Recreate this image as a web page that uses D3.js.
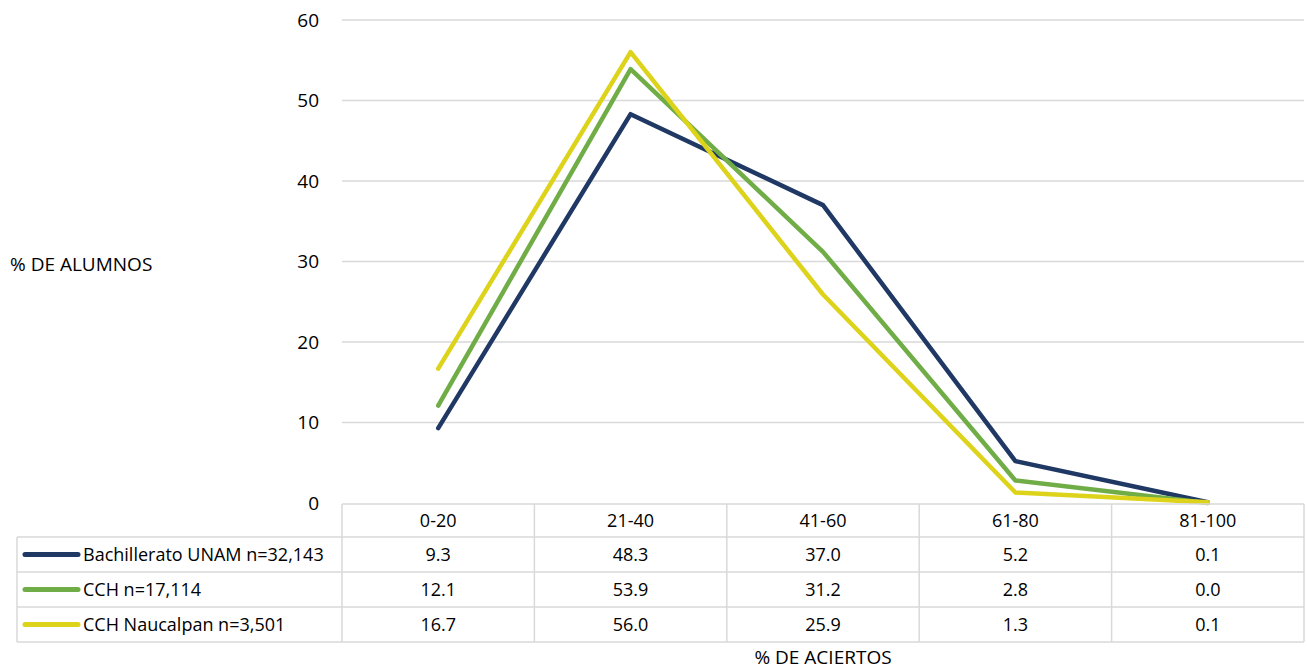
<!DOCTYPE html>
<html><head><meta charset="utf-8">
<script src="https://cdn.jsdelivr.net/npm/d3@7"></script>
<style>body{margin:0;background:#fff}svg{display:block}</style>
</head><body>
<script>
const categories = ["0-20","21-40","41-60","61-80","81-100"];
const seriesNames = ["Bachillerato UNAM n=32,143","CCH n=17,114","CCH Naucalpan n=3,501"];
const bachillerato = [9.3,48.3,37.0,5.2,0.1];
const cch = [12.1,53.9,31.2,2.8,0.0];
const naucalpan = [16.7,56.0,25.9,1.3,0.1];
const yTicks = [0,10,20,30,40,50,60];
const colors = ["#203864","#70AD47","#DDD31A"];
const series = [bachillerato, cch, naucalpan];

(function(){
const W=1307,H=672;
const font = "'Open Sans', sans-serif";
const fs = 18;
const svg = d3.select("body").append("svg").attr("width",W).attr("height",H);
const pl=342,pr=1304,pt=20,pb=503;
const x = d3.scaleBand().domain(categories).range([pl,pr]);
const y = d3.scaleLinear().domain([0,60]).range([pb,pt]);

svg.append("g").selectAll("line").data(yTicks.filter(d=>d>0)).join("line")
  .attr("x1",pl).attr("x2",pr).attr("y1",d=>y(d)).attr("y2",d=>y(d))
  .attr("stroke","#d9d9d9").attr("stroke-width",1.3);
svg.append("g").selectAll("text").data(yTicks).join("text")
  .attr("x",319).attr("y",d=>y(d)+6.5).attr("text-anchor","end")
  .attr("font-family",font).attr("font-size",fs+1).attr("fill","#000").text(d=>d);

const line = d3.line().x((d,i)=>x(categories[i])+x.bandwidth()/2).y(d=>y(d));
series.forEach((s,i)=>{
  svg.append("path").attr("d",line(s)).attr("fill","none")
    .attr("stroke",colors[i]).attr("stroke-width",4.5)
    .attr("stroke-linecap","round").attr("stroke-linejoin","round");
});

const rowTop=504, rowH=[33,35,35,35];
const rowY=[rowTop]; rowH.forEach((h,i)=>rowY.push(rowY[i]+h));
const tl = svg.append("g").attr("stroke","#d9d9d9").attr("stroke-width",1.5);
tl.append("line").attr("x1",pl).attr("x2",pr).attr("y1",rowY[0]).attr("y2",rowY[0]);
for(let r=1;r<rowY.length;r++) tl.append("line").attr("x1",17).attr("x2",pr).attr("y1",rowY[r]).attr("y2",rowY[r]);
const colX = categories.map(c=>x(c)).concat([pr]);
colX.forEach(cx=>tl.append("line").attr("x1",cx).attr("x2",cx).attr("y1",rowY[0]).attr("y2",rowY[4]));
tl.append("line").attr("x1",17).attr("x2",17).attr("y1",rowY[1]).attr("y2",rowY[4]);

svg.append("g").selectAll("text").data(categories).join("text")
  .attr("x",d=>x(d)+x.bandwidth()/2).attr("y",(rowY[0]+rowY[1])/2+6.5)
  .attr("text-anchor","middle").attr("font-family",font).attr("font-size",fs).text(d=>d);
series.forEach((s,i)=>{
  const cy=(rowY[i+1]+rowY[i+2])/2;
  svg.append("g").selectAll("text").data(s).join("text")
    .attr("x",(d,j)=>x(categories[j])+x.bandwidth()/2).attr("y",cy+6.5)
    .attr("text-anchor","middle").attr("font-family",font).attr("font-size",fs)
    .text(d=>d.toFixed(1));
  svg.append("line").attr("x1",25).attr("x2",78).attr("y1",cy).attr("y2",cy)
    .attr("stroke",colors[i]).attr("stroke-width",5).attr("stroke-linecap","round");
  svg.append("text").attr("x",83).attr("y",cy+6.5).attr("font-family",font)
    .attr("font-size",fs).text(seriesNames[i]);
});

svg.append("text").attr("x",10).attr("y",271).attr("font-family",font).attr("font-size",fs+1).text("% DE ALUMNOS");
svg.append("text").attr("x",823).attr("y",664).attr("text-anchor","middle").attr("font-family",font).attr("font-size",fs+1).text("% DE ACIERTOS");
})();
</script>
</body></html>
